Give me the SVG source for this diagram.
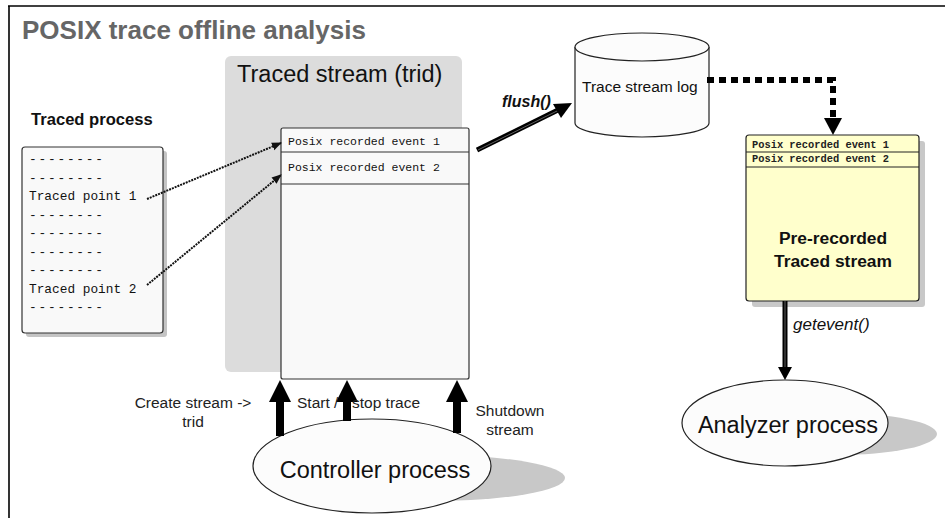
<svg xmlns="http://www.w3.org/2000/svg" width="945" height="518" viewBox="0 0 945 518">
<defs>
<marker id="dotHead" viewBox="0 0 10 10" refX="9" refY="5" markerWidth="10" markerHeight="10" markerUnits="userSpaceOnUse" orient="auto">
<path d="M0,1 L10,5 L0,9 z" fill="#111"/>
</marker>
</defs>
<style>
.sans{font-family:"Liberation Sans",Arial,sans-serif;}
.mono{font-family:"Liberation Mono","Courier New",monospace;}
.box{fill:#f9f9f9;stroke:#333;stroke-width:1.2;}
.shadow{fill:#c4c4c4;}
.lbl{font-family:"Liberation Sans",Arial,sans-serif;font-size:15.5px;fill:#222;}
.dots{fill:none;stroke:#111;stroke-width:2;stroke-dasharray:2 1;}
.thick{fill:#000;}
</style>
<rect width="945" height="518" fill="#fff"/>
<g id="frame" stroke="#000" stroke-width="1.6">
<line x1="8" y1="6" x2="945" y2="6"/>
<line x1="9" y1="6" x2="9" y2="518"/>
</g>
<text id="title" class="sans" x="22" y="39" font-size="26" font-weight="bold" fill="#666">POSIX trace offline analysis</text>

<g id="traced-stream-area">
<rect x="225" y="56" width="237" height="316" rx="6" fill="#dcdcdc"/>
<text class="sans" x="237" y="82" font-size="23.5" fill="#111">Traced stream (trid)</text>
</g>

<g id="traced-process">
<text class="sans" x="31" y="125" font-size="16.6" font-weight="bold" fill="#111">Traced process</text>
<rect class="shadow" x="26" y="151" width="141" height="186" rx="3" fill="#999"/>
<rect class="box" x="22" y="147" width="141" height="186" rx="3"/>
<g class="mono" font-size="12.8" fill="#111">
<text x="29" y="163" textLength="74" lengthAdjust="spacing">--------</text>
<text x="29" y="181.5" textLength="74" lengthAdjust="spacing">--------</text>
<text x="29" y="200">Traced point 1</text>
<text x="29" y="218.5" textLength="74" lengthAdjust="spacing">--------</text>
<text x="29" y="237" textLength="74" lengthAdjust="spacing">--------</text>
<text x="29" y="255.5" textLength="74" lengthAdjust="spacing">--------</text>
<text x="29" y="274" textLength="74" lengthAdjust="spacing">--------</text>
<text x="29" y="292.5">Traced point 2</text>
<text x="29" y="311" textLength="74" lengthAdjust="spacing">--------</text>
</g>
</g>

<g id="stream-box">
<rect class="box" x="281" y="128" width="188" height="251" rx="2"/>
<line x1="281" y1="152" x2="469" y2="152" stroke="#333" stroke-width="1.2"/>
<line x1="281" y1="184" x2="469" y2="184" stroke="#333" stroke-width="1.2"/>
<text class="mono" x="288" y="145" font-size="11.5" fill="#111">Posix recorded event 1</text>
<text class="mono" x="288" y="171" font-size="11.5" fill="#111">Posix recorded event 2</text>
</g>

<g id="trace-log">
<path d="M575,47 L575,123 A67,14 0 0 0 709,123 L709,47" fill="#fcfcfc" stroke="#222" stroke-width="1.2"/>
<ellipse cx="642" cy="47" rx="67" ry="14" fill="#fcfcfc" stroke="#222" stroke-width="1.2"/>
<text class="sans" x="582" y="92" font-size="15.5" fill="#111">Trace stream log</text>
</g>

<g id="prerecorded">
<rect x="752" y="141" width="173" height="166" rx="3" fill="#c8c8c8"/>
<rect x="746" y="135" width="173" height="166" rx="3" fill="#ffffcc" stroke="#222" stroke-width="1.2"/>
<line x1="746" y1="152" x2="919" y2="152" stroke="#222" stroke-width="1"/>
<line x1="746" y1="167" x2="919" y2="167" stroke="#222" stroke-width="1"/>
<text class="mono" x="752" y="148" font-size="10" font-weight="bold" fill="#222" textLength="137" lengthAdjust="spacingAndGlyphs">Posix recorded event 1</text>
<text class="mono" x="752" y="162" font-size="10" font-weight="bold" fill="#222" textLength="137" lengthAdjust="spacingAndGlyphs">Posix recorded event 2</text>
<text class="sans" x="833" y="244" font-size="17.4" font-weight="bold" fill="#111" text-anchor="middle">Pre-recorded</text>
<text class="sans" x="833" y="267" font-size="17.4" font-weight="bold" fill="#111" text-anchor="middle">Traced stream</text>
</g>

<g id="analyzer">
<ellipse cx="836" cy="434" rx="101" ry="21" fill="#c8c8c8"/>
<ellipse cx="785" cy="423" rx="103" ry="43" fill="#fcfcfc" stroke="#222" stroke-width="1.2"/>
<text class="sans" x="788" y="433" font-size="23.5" fill="#111" text-anchor="middle">Analyzer process</text>
</g>

<g id="controller">
<ellipse cx="432" cy="478" rx="133" ry="23" fill="#c8c8c8"/>
<ellipse cx="372" cy="466" rx="119" ry="47" fill="#fcfcfc" stroke="#222" stroke-width="1.2"/>
<text class="sans" x="375" y="478" font-size="23.5" fill="#111" text-anchor="middle">Controller process</text>
</g>

<g id="connectors">
<line class="dots" x1="147" y1="199" x2="281" y2="143" marker-end="url(#dotHead)"/>
<line class="dots" x1="147" y1="285" x2="281" y2="175" marker-end="url(#dotHead)"/>

<g id="flush">
<line x1="477" y1="150" x2="558" y2="110" stroke="#000" stroke-width="5"/>
<line x1="478" y1="150" x2="558" y2="110.5" stroke="#777" stroke-width="0.8"/>
<path d="M572,103 L553,104 L561,118 z" fill="#000"/>
<text class="sans" x="502" y="107" font-size="16" font-weight="bold" font-style="italic" fill="#111">flush()</text>
</g>

<g id="log-to-stream">
<path d="M707,80 L833,80 L833,119" fill="none" stroke="#000" stroke-width="6" stroke-dasharray="7 5"/>
<path d="M824,118 L842,118 L833,135 z" fill="#000"/>
</g>

<g id="getevent">
<line x1="785" y1="301" x2="785" y2="368" stroke="#000" stroke-width="5"/>
<line x1="785" y1="301" x2="785" y2="368" stroke="#777" stroke-width="0.8"/>
<path d="M778,367 L792,367 L785,380 z" fill="#000"/>
<text class="sans" x="793" y="330" font-size="17" font-style="italic" fill="#111">getevent()</text>
</g>

<g id="ctrl-arrows" class="thick">
<path d="M276,436 L284,436 L284,402 L291,402 L280,380 L269,402 L276,402 z"/>
<path d="M343,421 L351,421 L351,402 L358,402 L347,380 L336,402 L343,402 z"/>
<path d="M453,433 L461,433 L461,402 L468,402 L457,380 L446,402 L453,402 z"/>
</g>
<text class="lbl" x="193" y="408" text-anchor="middle">Create stream -&gt;</text>
<text class="lbl" x="193" y="427" text-anchor="middle">trid</text>
<text class="lbl" y="408"><tspan x="297">Start /</tspan><tspan x="352">stop trace</tspan></text>
<text class="lbl" x="510" y="416" text-anchor="middle">Shutdown</text>
<text class="lbl" x="510" y="435" text-anchor="middle">stream</text>
</g>
</svg>
